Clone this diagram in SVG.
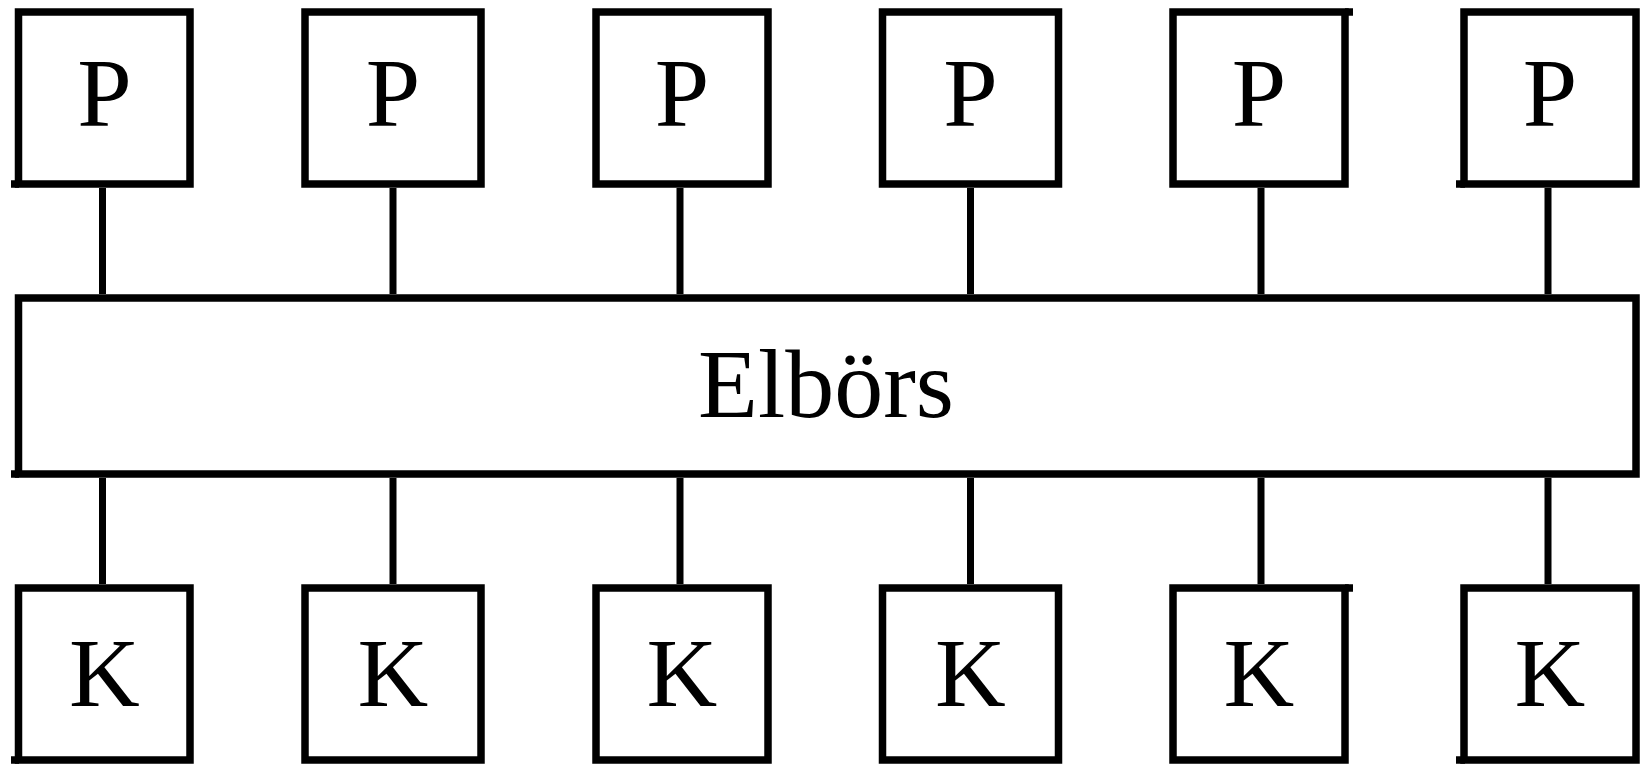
<svg xmlns="http://www.w3.org/2000/svg" width="1647" height="765" viewBox="0 0 1647 765">
  <style>
    .box { fill: #ffffff; stroke: #000000; stroke-width: 7.5; stroke-linejoin: miter; }
    .tick { fill: none; stroke: #000000; stroke-width: 7.5; stroke-linecap: butt; }
    .link { fill: none; stroke: #000000; stroke-width: 7; }
    .lbl { font-family: "Liberation Serif", "Times New Roman", serif; font-size: 98px; fill: #000000; text-anchor: middle; }
  </style>
  <rect x="0" y="0" width="1647" height="765" fill="#ffffff"/>

  <!-- connectors: producers to exchange, exchange to consumers -->
  <g id="connectors">
    <path class="link" d="M102.5 188V294 M393 188V294 M680 188V294 M970.5 188V294 M1261 188V294 M1548 188V294"/>
    <path class="link" d="M102.5 478V584 M393 478V584 M680 478V584 M970.5 478V584 M1261 478V584 M1548 478V584"/>
  </g>

  <!-- producers -->
  <g id="p1"><rect class="box" x="18.5" y="12" width="171.5" height="172"/><path class="tick" d="M11 184H19"/><text class="lbl" x="104.5" y="126">P</text></g>
  <g id="p2"><rect class="box" x="305" y="12" width="176" height="172"/><text class="lbl" x="393" y="126">P</text></g>
  <g id="p3"><rect class="box" x="596" y="12" width="172" height="172"/><text class="lbl" x="682" y="126">P</text></g>
  <g id="p4"><rect class="box" x="882.5" y="12" width="176" height="172"/><text class="lbl" x="970.5" y="126">P</text></g>
  <g id="p5"><rect class="box" x="1173" y="12" width="172" height="172"/><path class="tick" d="M1345 12H1353"/><text class="lbl" x="1259" y="126">P</text></g>
  <g id="p6"><rect class="box" x="1464" y="12" width="172" height="172"/><path class="tick" d="M1456 184H1465"/><text class="lbl" x="1550" y="126">P</text></g>

  <!-- exchange -->
  <g id="elboers"><rect class="box" x="18.5" y="298" width="1617.5" height="176"/><path class="tick" d="M11 474H19"/><text class="lbl" x="826" y="417">Elbörs</text></g>

  <!-- consumers -->
  <g id="k1"><rect class="box" x="18.5" y="588" width="171.5" height="172"/><path class="tick" d="M11 760H19"/><text class="lbl" x="104.5" y="706">K</text></g>
  <g id="k2"><rect class="box" x="305" y="588" width="176" height="172"/><text class="lbl" x="393" y="706">K</text></g>
  <g id="k3"><rect class="box" x="596" y="588" width="172" height="172"/><text class="lbl" x="682" y="706">K</text></g>
  <g id="k4"><rect class="box" x="882.5" y="588" width="176" height="172"/><text class="lbl" x="970.5" y="706">K</text></g>
  <g id="k5"><rect class="box" x="1173" y="588" width="172" height="172"/><path class="tick" d="M1345 588H1353"/><text class="lbl" x="1259" y="706">K</text></g>
  <g id="k6"><rect class="box" x="1464" y="588" width="172" height="172"/><path class="tick" d="M1456 760H1465"/><text class="lbl" x="1550" y="706">K</text></g>
</svg>
